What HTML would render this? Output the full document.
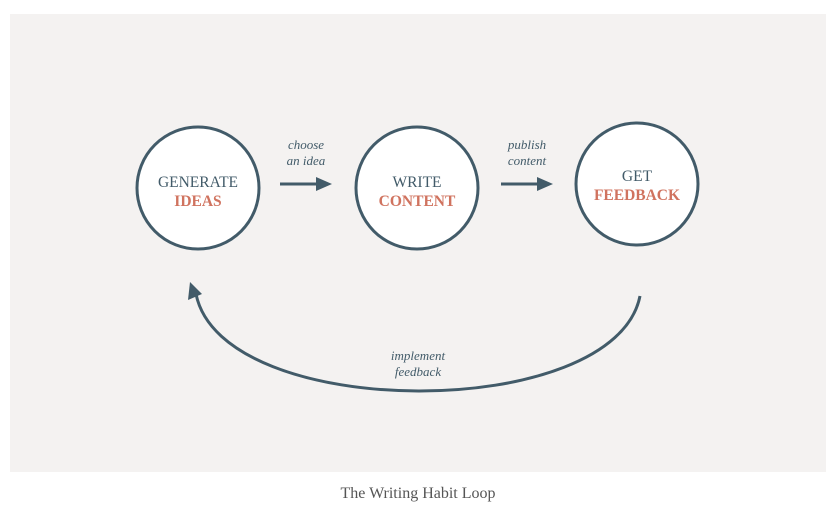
<!DOCTYPE html>
<html><head><style>
html,body{margin:0;padding:0;background:#fff;width:836px;height:510px;overflow:hidden}
svg{display:block}
</style></head><body>
<svg width="836" height="510" xmlns="http://www.w3.org/2000/svg">
<rect x="10" y="14" width="816" height="458" fill="#f4f2f1"/>
<g fill="#fff" stroke="#425b69" stroke-width="3">
<circle cx="198" cy="188" r="61"/>
<circle cx="417" cy="188" r="61"/>
<circle cx="637" cy="184" r="61"/>
</g>
<g font-family="Liberation Serif, serif" font-size="15.5" text-anchor="middle">
<text x="198" y="187" fill="#425b69">GENERATE</text>
<text x="198" y="206" fill="#d0735f" font-weight="bold">IDEAS</text>
<text x="417" y="187" fill="#425b69">WRITE</text>
<text x="417" y="206" fill="#d0735f" font-weight="bold">CONTENT</text>
<text x="637" y="181" fill="#425b69">GET</text>
<text x="637" y="200" fill="#d0735f" font-weight="bold">FEEDBACK</text>
</g>
<g font-family="Liberation Serif, serif" font-size="13" font-style="italic" fill="#425b69" text-anchor="middle">
<text x="306" y="149">choose</text>
<text x="306" y="165">an idea</text>
<text x="527" y="149">publish</text>
<text x="527" y="165">content</text>
<text x="418" y="360">implement</text>
<text x="418" y="376">feedback</text>
</g>
<g stroke="#425b69" stroke-width="3" fill="none">
<line x1="280" y1="184" x2="318" y2="184"/>
<line x1="501" y1="184" x2="539" y2="184"/>
<path d="M640 296 C 615 423, 222 423, 196 294"/>
</g>
<g fill="#425b69">
<polygon points="332,184 316,177 316,191"/>
<polygon points="553,184 537,177 537,191"/>
<polygon points="190,282 188,300 202,294"/>
</g>
<text x="418" y="498" font-family="Liberation Serif, serif" font-size="16" fill="#555" text-anchor="middle">The Writing Habit Loop</text>
</svg>
</body></html>
